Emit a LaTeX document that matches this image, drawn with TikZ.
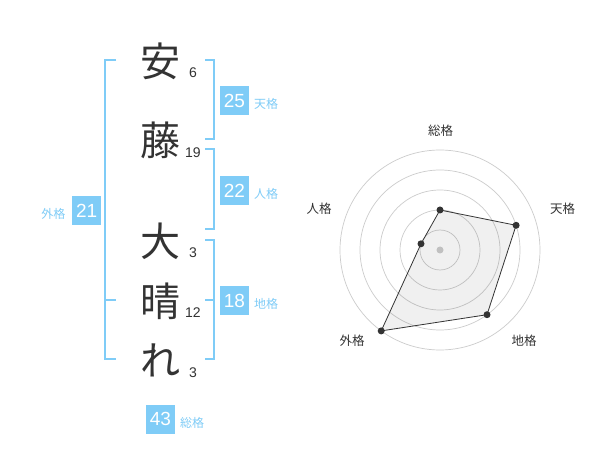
\documentclass[tikz,border=0pt]{standalone}
\usepackage{fontspec}
\setmainfont{Liberation Sans}
\newfontfamily\jp{Noto Sans CJK JP}
\definecolor{kblue}{HTML}{7FCCF7}
\definecolor{ktext}{HTML}{333333}
\begin{document}
\begin{tikzpicture}[x=1pt,y=-1pt,
 kanji/.style={font=\jp\fontsize{40}{40}\selectfont, text=ktext, inner sep=0},
 strokes/.style={font=\fontsize{14}{14}\selectfont, text=ktext, inner sep=0},
 numbox/.style={fill=kblue, text=white, minimum size=29pt, inner sep=0, font=\fontsize{19}{19}\selectfont},
 kaku/.style={font=\jp\fontsize{12}{12}\selectfont, text=kblue, inner sep=0},
 bracket/.style={draw=kblue, line width=2pt},
 ring/.style={draw=black!20, line width=0.7pt},
 axislabel/.style={font=\jp\fontsize{12.5}{12.5}\selectfont, text=ktext, inner sep=0},
 dot/.style={circle, fill=ktext, inner sep=0, minimum size=7pt},
]
\useasboundingbox[fill=white] (0,0) rectangle (600,470);

% name characters
\node[kanji] (c1) at (160,61) {安};
\node[kanji] (c2) at (160,140) {藤};
\node[kanji] (c3) at (160,241) {大};
\node[kanji] (c4) at (160,301) {晴};
\node[kanji] (c5) at (160,360) {れ};

\node[strokes] (s1) at (193,73) {6};
\node[strokes] (s2) at (193,153) {19};
\node[strokes] (s3) at (193,253) {3};
\node[strokes] (s4) at (193,313) {12};
\node[strokes] (s5) at (193,373) {3};

% brackets
\draw[bracket] (116,60) -- (105,60) -- (105,359.3) -- (116,359.3);
\draw[bracket] (105,300) -- (116,300);
\draw[bracket] (205,60) -- (214,60) -- (214,139.3) -- (205,139.3);
\draw[bracket] (205,149.3) -- (214,149.3) -- (214,229.3) -- (205,229.3);
\draw[bracket] (205,240) -- (214,240) -- (214,359.3) -- (205,359.3);
\draw[bracket] (205,300) -- (214,300);

% boxes
\node[numbox] (ten) at (234.5,100.5) {25};
\node[kaku] (tenl) at (266,104) {天格};
\node[numbox] (jin) at (234.5,190.5) {22};
\node[kaku] (jinl) at (266,194) {人格};
\node[numbox] (chi) at (234.5,300.5) {18};
\node[kaku] (chil) at (266,304) {地格};
\node[numbox] (gai) at (86.7,210.5) {21};
\node[kaku] (gail) at (53.3,213.5) {外格};
\node[numbox] (sou) at (160.5,419) {43};
\node[kaku] (soul) at (192,423) {総格};

% radar
\coordinate (O) at (440,250);
\foreach \r in {20,40,60,80,100} \draw[ring] (O) circle[radius=\r];
\node[circle, fill=black!20, inner sep=0, minimum size=7pt] (oc) at (O) {};
\coordinate (p1) at (440,210);
\coordinate (p2) at (516.1,225.3);
\coordinate (p3) at (487.0,314.7);
\coordinate (p4) at (381.2,330.9);
\coordinate (p5) at (421.0,243.8);
\fill[black, fill opacity=0.06] (p1) -- (p2) -- (p3) -- (p4) -- (p5) -- cycle;
\draw[ktext, line width=0.8pt] (p1) -- (p2) -- (p3) -- (p4) -- (p5) -- cycle;
\foreach \p in {p1,p2,p3,p4,p5} \node[dot] at (\p) {};

\node[axislabel] (a1) at (440.5,131) {総格};
\node[axislabel] (a2) at (562.5,208.5) {天格};
\node[axislabel] (a3) at (524,341) {地格};
\node[axislabel] (a4) at (352,341) {外格};
\node[axislabel] (a5) at (319,208.5) {人格};
\end{tikzpicture}
\end{document}
